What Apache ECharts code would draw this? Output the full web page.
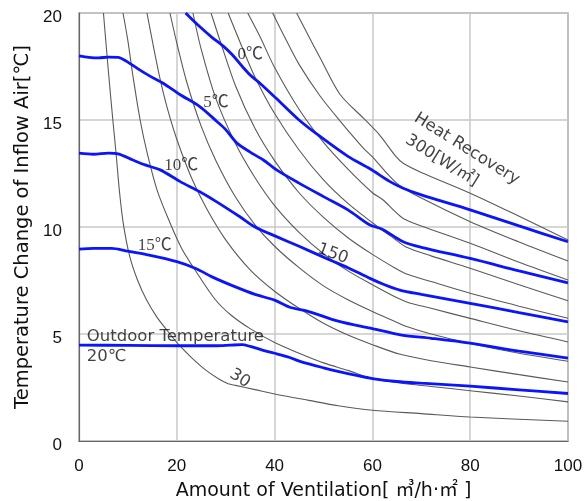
<!DOCTYPE html>
<html>
<head>
<meta charset="utf-8">
<script src="https://cdn.jsdelivr.net/npm/echarts@6/dist/echarts.min.js"></script>
<style>html,body{margin:0;padding:0;background:#fff;}#c{width:584px;height:501px;}</style>
</head>
<body>
<div id="c"></div>
<script>
// ---- axis ticks ----
var xTicks = [0, 20, 40, 60, 80, 100];
var yTicks = [0, 5, 10, 15, 20];

// ---- outdoor temperature curves (blue) ----
var outdoor0C = [[21.8,20],[24.5,19.4],[27.3,18.84],[29.5,18.45],[31.3,18.06],[33.4,17.5],[35,17.1],[37,16.72],[40.2,16.04],[45,15.0],[49.3,14.23],[55,13.3],[59.5,12.72],[63.6,12.12],[66.3,11.81],[70,11.5],[80,10.8],[90,10.05],[100,9.31]];
var outdoor5C = [[0,18.0],[2,17.93],[4,17.9],[6,17.94],[8,17.93],[9.75,17.74],[12,17.4],[14.5,17.05],[17.2,16.72],[20.7,16.18],[24.7,15.63],[28.2,14.93],[30,14.55],[32.3,13.92],[35,13.5],[37.7,13.13],[40.4,12.67],[45,12.05],[50,11.42],[55,10.8],[59.5,10.09],[62,9.9],[66.3,9.31],[70,9.05],[80,8.53],[90,7.95],[100,7.39]];
var outdoor10C = [[0,13.45],[3,13.4],[6,13.45],[8,13.42],[11,13.13],[13.5,12.9],[16.6,12.67],[20.7,12.12],[24.7,11.65],[28,11.2],[32.9,10.48],[36,10.0],[40.4,9.55],[45,9.1],[51.3,8.46],[55,8.1],[59.5,7.6],[62.5,7.3],[65.6,7.05],[70,6.85],[80,6.43],[90,6.0],[100,5.57]];
var outdoor15C = [[0,8.97],[3,9.0],[6.7,9.0],[9.5,8.89],[14,8.7],[20,8.38],[24,8.05],[27.2,7.67],[32,7.2],[36,6.85],[40,6.58],[43.1,6.25],[47,6.05],[53,5.6],[59.6,5.27],[66,4.95],[72,4.8],[80,4.57],[90,4.2],[100,3.87]];
var outdoor20C = [[0,4.48],[10,4.47],[20,4.45],[28,4.45],[31,4.48],[33.3,4.5],[35,4.42],[37.5,4.25],[40,4.1],[43.1,3.9],[45.2,3.72],[50,3.42],[53.4,3.23],[57,3.05],[60,2.92],[65,2.78],[70,2.7],[80,2.56],[90,2.39],[100,2.22]];

// ---- heat recovery curves (grey), W/m2 ----
var recovery30 = [[5.0,20],[6.0,17.3],[7.0,14.8],[7.6,13.4],[8.3,11.6],[9.1,10.1],[10.4,8.6],[12,7.5],[13.8,6.6],[15.9,5.8],[17.9,5.2],[20.4,4.5],[23,3.9],[26,3.3],[28.6,2.9],[30.5,2.68],[32,2.6],[36,2.4],[40,2.2],[47,1.9],[53,1.65],[60,1.44],[70,1.28],[80,1.12],[100,0.92]];
var recovery60 = [[9.0,20],[10,18.7],[11,17.1],[12.5,15.0],[14,13.4],[16,11.7],[18.6,10.2],[21,9.0],[24,7.9],[27.9,6.6],[31,5.9],[35,5.25],[40,4.6],[45,4.1],[50,3.65],[55,3.3],[60,2.92],[66,2.7],[72,2.55],[80,2.35],[90,2.1],[100,1.83]];
var recovery90 = [[13.9,20],[15,18.7],[16.5,17.0],[18,15.6],[20,14.1],[23,12.3],[26,10.9],[30,9.4],[35,8.0],[40,7.0],[45,6.2],[50,5.5],[55,4.95],[60,4.5],[65.7,4.05],[72,3.75],[80,3.46],[90,3.1],[100,2.76]];
var recovery120 = [[18.6,20],[20,18.6],[22,16.8],[25,14.7],[28,13.1],[32,11.4],[36,10.1],[40,9.1],[45,8.1],[50,7.25],[55,6.6],[60,6.05],[64.5,5.6],[67,5.35],[72,5.0],[80,4.56],[90,4.1],[100,3.73]];
var recovery150 = [[23.3,20],[25,18.3],[28,16.0],[32,13.9],[36,12.3],[40,11.0],[45,9.75],[50,8.75],[55,7.95],[60,7.3],[64.5,6.75],[67,6.5],[72,6.2],[80,5.73],[90,5.15],[100,4.63]];
var recovery180 = [[27,20],[29,18.6],[32,16.6],[36,14.6],[40,13.1],[45,11.6],[50,10.45],[55,9.5],[60,8.72],[64.5,8.1],[67,7.8],[72,7.45],[80,6.9],[90,6.3],[100,5.74]];
var recovery210 = [[30.5,20],[33,18.6],[36,17.0],[40,15.3],[45,13.6],[50,12.2],[55,11.1],[60,10.2],[64.5,9.45],[67,9.05],[72,8.65],[80,8.07],[90,7.3],[100,6.55]];
var recovery240 = [[34.5,20],[37,18.9],[40,17.45],[45,15.5],[50,13.95],[55,12.7],[60,11.6],[62.2,11.26],[64.5,10.75],[66.3,10.4],[70,10.05],[80,9.24],[90,8.35],[100,7.52]];
var recovery270 = [[39.6,20],[42,18.9],[45,17.6],[49.3,16.12],[53.4,14.95],[58.1,13.7],[60.2,13.23],[63,12.5],[65.5,11.95],[70,11.35],[80,10.25],[90,9.3],[100,8.41]];
var recovery300 = [[44.5,20],[47,18.9],[49.3,17.91],[53.4,16.19],[58.1,15.1],[61.4,14.32],[64.8,13.3],[66.3,12.98],[70,12.55],[80,11.58],[90,10.5],[100,9.39]];

var blueSeries = [outdoor0C, outdoor5C, outdoor10C, outdoor15C, outdoor20C];
var greySeries = [recovery30, recovery60, recovery90, recovery120, recovery150, recovery180, recovery210, recovery240, recovery270, recovery300];

// ---- annotations: text, anchor [x, y] in data units, rotation (deg) ----
var noteText = ['0℃', '5℃', '10℃', '15℃', 'Outdoor Temperature', '20℃', '30', '150', 'Heat Recovery', '300[W/㎡]'];
var noteAt = [[35.0,18.05],[28.0,15.8],[20.9,12.86],[15.5,9.12],[1.6,4.85],[1.6,3.92],[32.9,2.92],[51.9,8.74],[79.3,13.65],[74.2,13.1]];
var noteRotate = [0, 0, 0, 0, 0, 0, -32, -20, -32, -32];
var noteAlign = ['center','center','center','center','left','left','center','center','center','center'];

var SANS = '"Liberation Sans", Arial, "Noto Sans CJK KR", sans-serif';
var WIDE = '"DejaVu Sans", "Noto Sans CJK KR", sans-serif';
var SERIF = '"Liberation Serif", "Noto Sans CJK KR", serif';

var series = [];
greySeries.forEach(function (d) {
  series.push({ type: 'line', data: d, showSymbol: false, smooth: 0.3, z: 2,
    lineStyle: { color: '#5a5a5a', width: 1.1 }, silent: true });
});
blueSeries.forEach(function (d) {
  series.push({ type: 'line', data: d, showSymbol: false, smooth: 0.3, z: 3,
    lineStyle: { color: '#0a14ff', width: 2.8 }, silent: true });
});
series.push({
  type: 'scatter', symbolSize: 0, z: 5, silent: true,
  data: noteText.map(function (t, i) {
    var isSerif = i <= 3;
    return { value: noteAt[i], label: { show: true, formatter: t, position: 'inside',
      rotate: noteRotate[i], align: noteAlign[i], verticalAlign: 'middle',
      fontSize: isSerif ? 17 : 16.5, color: '#111', fontFamily: isSerif ? SERIF : WIDE } };
  })
});

var chart = echarts.init(document.getElementById('c'), null, { renderer: 'canvas' });
chart.setOption({
  animation: false,
  backgroundColor: '#fff',
  grid: { left: 79, right: 16, top: 13, bottom: 60, show: true, borderColor: '#666', borderWidth: 1.2,
    containLabel: false, outerBoundsMode: 'none' },
  xAxis: {
    type: 'value', min: xTicks[0], max: xTicks[xTicks.length - 1], interval: 20,
    axisLine: { show: true, lineStyle: { color: '#666', width: 1.2 } },
    axisTick: { show: false },
    splitLine: { show: true, lineStyle: { color: '#c8c8c8', width: 1.5 } },
    axisLabel: { fontSize: 17, color: '#111', margin: 17, fontFamily: SANS },
    name: 'Amount of Ventilation[ ㎥/h·㎡ ]', nameLocation: 'middle', nameGap: 41,
    nameTextStyle: { fontSize: 19, color: '#111', fontFamily: WIDE }
  },
  yAxis: {
    type: 'value', min: yTicks[0], max: yTicks[yTicks.length - 1], interval: 5,
    axisLine: { show: true, lineStyle: { color: '#666', width: 1.2 } },
    axisTick: { show: false },
    splitLine: { show: true, lineStyle: { color: '#c8c8c8', width: 1.5 } },
    axisLabel: { margin: 17, formatter: function (v) { return '{a|' + v + '}'; },
      rich: { a: { fontSize: 17, color: '#111', fontFamily: SANS, padding: [9, 0, 0, 0] } } },
    name: 'Temperature Change of Inflow Air[℃]', nameLocation: 'middle', nameGap: 46, nameRotate: 90,
    nameTextStyle: { fontSize: 19.5, color: '#111', fontFamily: WIDE }
  },
  series: series
});
</script>
</body>
</html>
